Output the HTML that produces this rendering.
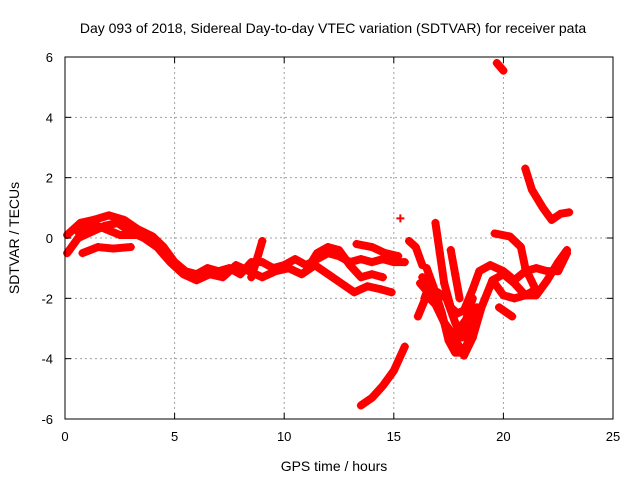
<!DOCTYPE html>
<html><head><meta charset="utf-8"><style>
body{margin:0;background:#fff;}
svg{display:block;font-family:"Liberation Sans",sans-serif;}
</style></head><body>
<svg id="chart" width="640" height="480" viewBox="0 0 640 480">
<rect width="640" height="480" fill="#fff"/>
<text x="333" y="33" font-size="14" text-anchor="middle">Day 093 of 2018, Sidereal Day-to-day VTEC variation (SDTVAR) for receiver pata</text>
<g id="grid"></g>
<g id="marks"></g>
<rect x="65" y="57" width="548" height="362" fill="none" stroke="#000" stroke-width="1"/>
<g id="axes"></g>
<text x="334" y="471" font-size="14" text-anchor="middle">GPS time / hours</text>
<text transform="translate(19,238) rotate(-90)" font-size="14" text-anchor="middle">SDTVAR / TECUs</text>
</svg>
<script>
const xTicks=[0,5,10,15,20,25];
const yTicks=[-6,-4,-2,0,2,4,6];
const trackA=[[0.1,0.1],[0.7,0.5],[1.3,0.6],[2,0.75],[2.7,0.6],[3.3,0.3],[4,0.05],[4.5,-0.3],[5,-0.8],[5.5,-1.1],[6,-1.2],[6.5,-1.0],[7,-1.1],[7.5,-1.0],[8,-1.2],[8.5,-0.8],[9,-0.8],[9.5,-1.0],[10,-0.9],[10.5,-0.7],[11,-0.9],[11.5,-0.7],[12,-0.5],[12.5,-0.6],[13,-0.8],[13.5,-0.7],[14,-0.8],[14.5,-0.7],[15,-0.8],[15.5,-0.8]];
const trackB=[[0.1,-0.5],[0.6,0.0],[1.2,0.2],[1.8,0.4],[2.4,0.5],[3,0.2],[3.6,0],[4.2,-0.3],[4.8,-0.8],[5.4,-1.2],[6,-1.4],[6.6,-1.2],[7.2,-1.3],[7.8,-0.9],[8.4,-1.1],[9,-1.3],[9.6,-1.1],[10.2,-1.0],[10.8,-1.2],[11.4,-0.9],[12,-1.2],[12.6,-1.5],[13.2,-1.8],[13.8,-1.6],[14.4,-1.7],[14.9,-1.8]];
const trackC=[[0.8,-0.5],[1.5,-0.3],[2.2,-0.35],[3,-0.3]];
const trackD=[[0.6,0.2],[1.5,0.4],[2.5,0.1],[3.2,0.1]];
const trackE=[[11,-1.1],[11.5,-0.5],[12,-0.3],[12.5,-0.4],[13,-0.9],[13.5,-1.3],[14,-1.2],[14.5,-1.3]];
const trackF=[[13.3,-0.2],[14,-0.3],[14.6,-0.5],[15.2,-0.6]];
const trackSpike=[[8.5,-1.3],[8.8,-0.6],[9.0,-0.1]];
const trackBottom=[[13.5,-5.55],[14,-5.3],[14.5,-4.9],[15,-4.4],[15.5,-3.6]];
const trackG=[[15.3,0.65]];
const trackH=[[15.7,-0.1],[16,-0.3],[16.3,-0.9]];
const trackI=[[16.1,-2.6],[16.5,-1.9],[16.9,-2.2],[17.5,-3.1],[18,-3.6],[18.2,-3.9],[18.6,-3.3],[19,-2.3],[19.5,-1.4],[20,-1.2],[20.5,-1.5],[21,-1.9],[21.5,-1.9],[22,-1.4],[22.5,-0.8],[22.9,-0.4]];
const trackJ=[[16.9,0.5],[17.1,-0.5],[17.3,-1.5],[17.6,-2.3],[17.9,-2.5],[18.2,-2.4],[18.6,-1.7],[18.9,-1.1],[19.4,-0.9],[20,-1.1],[20.5,-1.4],[21,-1.1],[21.5,-1.0],[22,-1.1],[22.5,-1.1],[22.9,-0.5]];
const trackK=[[16.5,-1.0],[16.8,-1.6],[17.2,-2.5],[17.5,-3.4],[17.8,-3.8],[18.2,-3.8],[18.5,-3.2],[18.8,-2.3]];
const trackK2=[[16.2,-1.5],[16.8,-2.0],[17.3,-2.8],[17.7,-3.2],[18.0,-3.0],[18.3,-2.7],[18.6,-2.0]];
const trackK3=[[17.0,-1.8],[17.4,-2.0],[17.8,-2.8],[18.1,-3.3],[18.4,-2.9]];
const trackL=[[17.6,-0.4],[17.8,-1.2],[18.0,-2.0]];
const trackM=[[19.6,0.15],[20.3,0.05],[20.8,-0.3],[21,-1],[21.4,-1.6]];
const trackN=[[19.7,5.8],[20,5.55]];
const trackO=[[21,2.3],[21.3,1.6],[21.8,1.0],[22.2,0.6],[22.6,0.8],[23,0.85]];
const trackP=[[19.5,-1.4],[20,-1.9],[20.5,-2.0],[21,-1.9],[21.5,-1.7]];
const trackP2=[[19.8,-2.3],[20.2,-2.5],[20.4,-2.6]];
const trackQ=[[16.3,-1.3],[16.6,-1.6],[16.4,-2.0]];
const tracks=[trackA,trackB,trackC,trackD,trackE,trackF,trackSpike,trackBottom,trackG,trackH,trackI,trackJ,trackK,trackK2,trackK3,trackL,trackM,trackN,trackO,trackP,trackP2,trackQ];

const X0=65,X1=613,Y0=419,Y1=57;
function xs(t){return X0+(t-0)/25*(X1-X0);}
function ys(v){return Y0-(v+6)/12*(Y0-Y1);}
const NS="http://www.w3.org/2000/svg";
function mk(tag,attrs,parent){const e=document.createElementNS(NS,tag);for(const k in attrs)e.setAttribute(k,attrs[k]);parent.appendChild(e);return e;}
const grid=document.getElementById('grid'),axes=document.getElementById('axes'),marks=document.getElementById('marks');
xTicks.forEach(t=>{
  const x=xs(t);
  if(t>0&&t<25){const g=mk('line',{x1:x,x2:x,y1:Y1,y2:Y0,stroke:'#a0a0a0','stroke-dasharray':'2,3'},grid);
  
  }
  const a=mk('line',{x1:x,x2:x,y1:Y0,y2:Y0-6,stroke:'#000'},axes);
  
  
  const b=mk('line',{x1:x,x2:x,y1:Y1,y2:Y1+6,stroke:'#000'},axes);
  
  
  const l=mk('text',{x:x,y:Y0+22,'font-size':13,'text-anchor':'middle'},axes);l.textContent=t;
  
  
});
yTicks.forEach(v=>{
  const y=ys(v);
  if(v>-6&&v<6){const g=mk('line',{x1:X0,x2:X1,y1:y,y2:y,stroke:'#a0a0a0','stroke-dasharray':'2,3'},grid);
  
  }
  const a=mk('line',{x1:X0,x2:X0+6,y1:y,y2:y,stroke:'#000'},axes);
  
  
  const b=mk('line',{x1:X1,x2:X1-6,y1:y,y2:y,stroke:'#000'},axes);
  
  
  const l=mk('text',{x:X0-12,y:y+5,'font-size':13,'text-anchor':'end'},axes);l.textContent=v;
  
  
});
tracks.forEach(tr=>{
  if(tr.length>1){
    const p=mk('polyline',{points:tr.map(d=>xs(d[0])+','+ys(d[1])).join(' '),fill:'none',stroke:'#ff0000','stroke-width':8,'stroke-linejoin':'round','stroke-linecap':'round'},marks);
    
    
  }
  tr.forEach(d=>{
    const x=xs(d[0]),y=ys(d[1]);
    const m=mk('path',{d:`M${x-4},${y}H${x+4}M${x},${y-4}V${y+4}`,stroke:'#ff0000','stroke-width':2},marks);
    
    
  });
});
</script>
</body></html>
